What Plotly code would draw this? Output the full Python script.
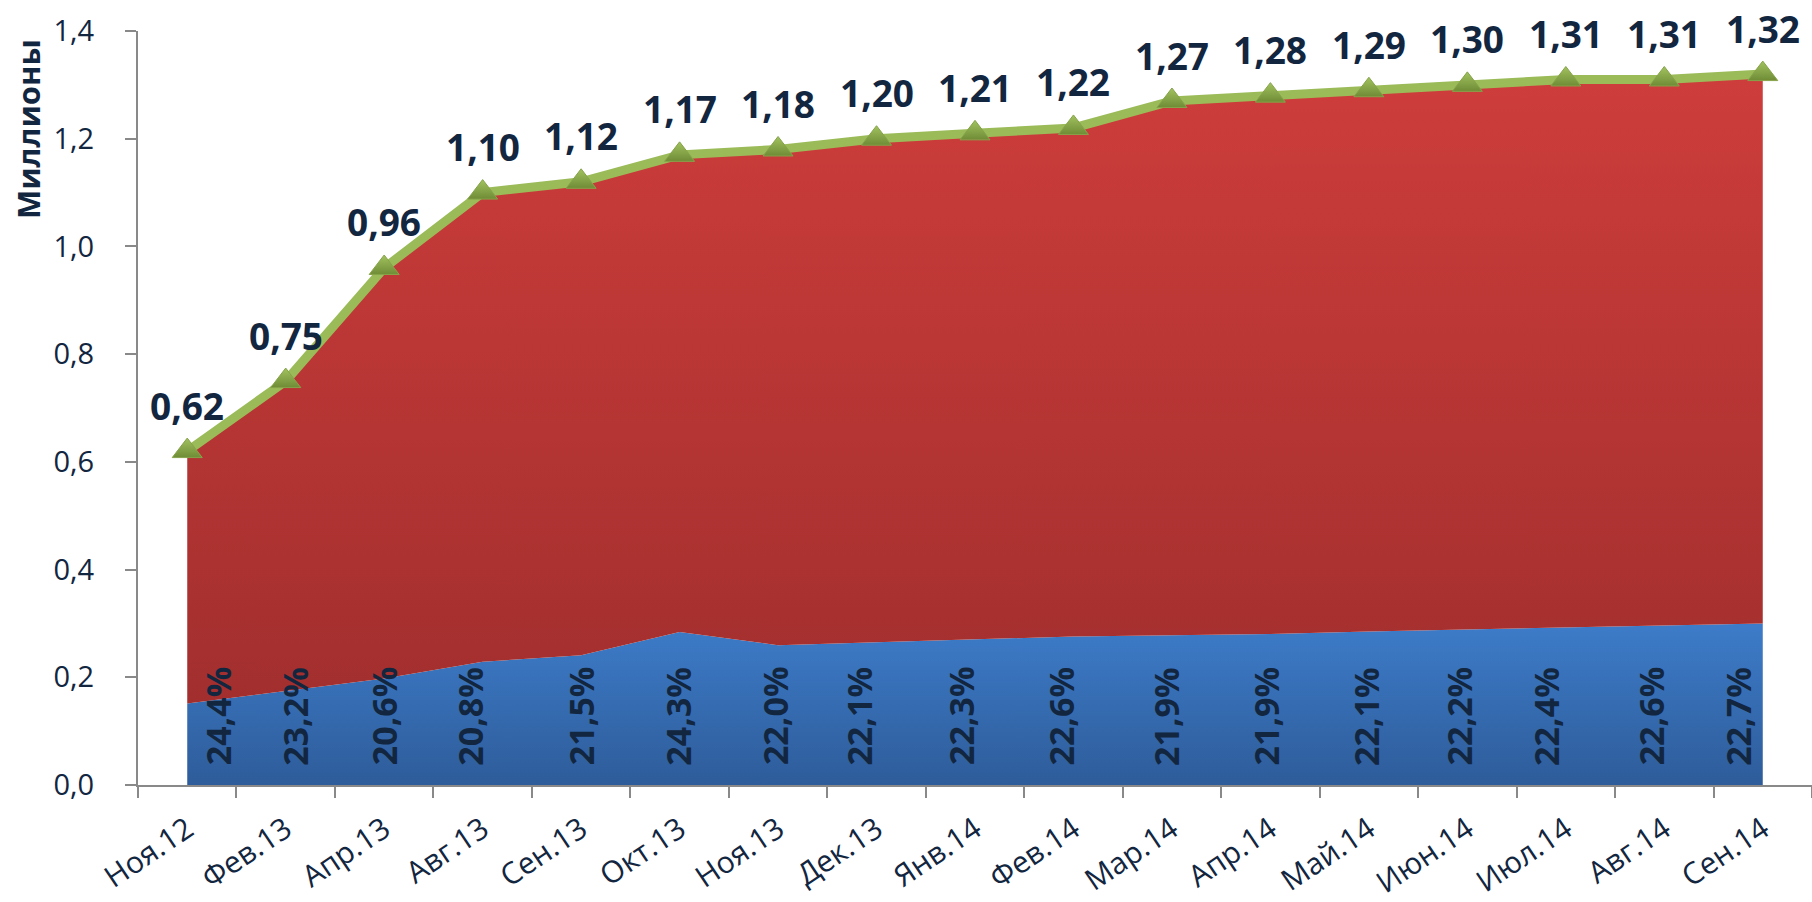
import plotly.graph_objects as go

categories = ["Ноя.12", "Фев.13", "Апр.13", "Авг.13", "Сен.13", "Окт.13", "Ноя.13", "Дек.13",
              "Янв.14", "Фев.14", "Мар.14", "Апр.14", "Май.14", "Июн.14", "Июл.14", "Авг.14", "Сен.14"]
totals = [0.62, 0.75, 0.96, 1.10, 1.12, 1.17, 1.18, 1.20, 1.21, 1.22, 1.27, 1.28, 1.29, 1.30, 1.31, 1.31, 1.32]
shares_pct = [24.4, 23.2, 20.6, 20.8, 21.5, 24.3, 22.0, 22.1, 22.3, 22.6, 21.9, 21.9, 22.1, 22.2, 22.4, 22.6, 22.7]
y_ticks = [0.0, 0.2, 0.4, 0.6, 0.8, 1.0, 1.2, 1.4]
y_title = "Миллионы"

blue_vals = [t * p / 100 for t, p in zip(totals, shares_pct)]
red_vals = [t - b for t, b in zip(totals, blue_vals)]

NAVY = "#12263F"
FONT = "Open Sans"
# horizontal nudges (px) of the rotated percentage labels, as placed in the original
pct_label_nudge = [31, 9, 0, -13, 0, -2, -3, -17, -14, -12, -6, -4, -3, -8, -20, -13, -25]

fig = go.Figure()

fig.add_trace(go.Scatter(
    x=categories, y=blue_vals, mode="lines", stackgroup="s", line=dict(width=0, color="#3C7BC8"),
    fillgradient=dict(type="vertical", start=0, stop=0.30,
                      colorscale=[[0, "#2E5C9A"], [1, "#3D7CC9"]]),
    hoverinfo="skip", showlegend=False,
))
fig.add_trace(go.Scatter(
    x=categories, y=red_vals, mode="lines", stackgroup="s", line=dict(width=0, color="#C83A38"),
    fillgradient=dict(type="vertical", start=0, stop=1.32,
                      colorscale=[[0, "#9C2D2C"], [1, "#CD3D3B"]]),
    hoverinfo="skip", showlegend=False,
))
fig.add_trace(go.Scatter(
    x=categories, y=totals, mode="lines+markers",
    line=dict(color="#9BBB59", width=9),
    marker=dict(symbol="triangle-up", size=26, color="#A2C25E",
                gradient=dict(type="vertical", color="#6F8C36"),
                line=dict(color="#86A34A", width=1)),
    hoverinfo="skip", showlegend=False,
))

annotations = []
for c, t in zip(categories, totals):
    annotations.append(dict(
        x=c, y=t, text=f"{t:.2f}".replace(".", ","), showarrow=False,
        yshift=46, xanchor="center", yanchor="middle",
        font=dict(family=FONT, size=37, color=NAVY, weight="bold"),
    ))
for c, p, dx in zip(categories, shares_pct, pct_label_nudge):
    annotations.append(dict(
        x=c, y=0.128, text=f"{p:.1f}%".replace(".", ","), showarrow=False,
        textangle=-90, xshift=dx, xanchor="center", yanchor="middle",
        font=dict(family=FONT, size=34, color=NAVY, weight="bold"),
    ))
annotations.append(dict(
    xref="paper", yref="paper", x=-0.0657, y=0.870, text=y_title, showarrow=False,
    textangle=-90, xanchor="center", yanchor="middle",
    font=dict(family=FONT, size=31, color=NAVY, weight="bold"),
))

fig.update_layout(
    width=1812, height=902,
    margin=dict(l=138, r=0, t=31, b=117, autoexpand=False),
    paper_bgcolor="white", plot_bgcolor="white",
    separators=", ",
    annotations=annotations,
    font=dict(family=FONT, color=NAVY),
)
fig.update_xaxes(
    type="category", range=[-0.5, 16.5], tickson="boundaries", automargin=False,
    showline=True, linecolor="#898989", linewidth=2,
    ticks="outside", ticklen=11, tickwidth=2, tickcolor="#898989",
    tickangle=-34, tickfont=dict(family=FONT, size=30, color=NAVY), ticklabelstandoff=13,
    showgrid=False, zeroline=False,
)
fig.update_yaxes(
    range=[0, 1.4], tickvals=y_ticks, tickformat=".1f", automargin=False,
    showline=True, linecolor="#898989", linewidth=2,
    ticks="outside", ticklen=11, tickwidth=2, tickcolor="#898989",
    tickfont=dict(family=FONT, size=29, color=NAVY), ticklabelstandoff=25,
    showgrid=False, zeroline=False,
)

fig.write_html("out.html", config={"displayModeBar": False},
               post_script="document.body.style.margin='0';document.body.style.overflow='hidden';")
